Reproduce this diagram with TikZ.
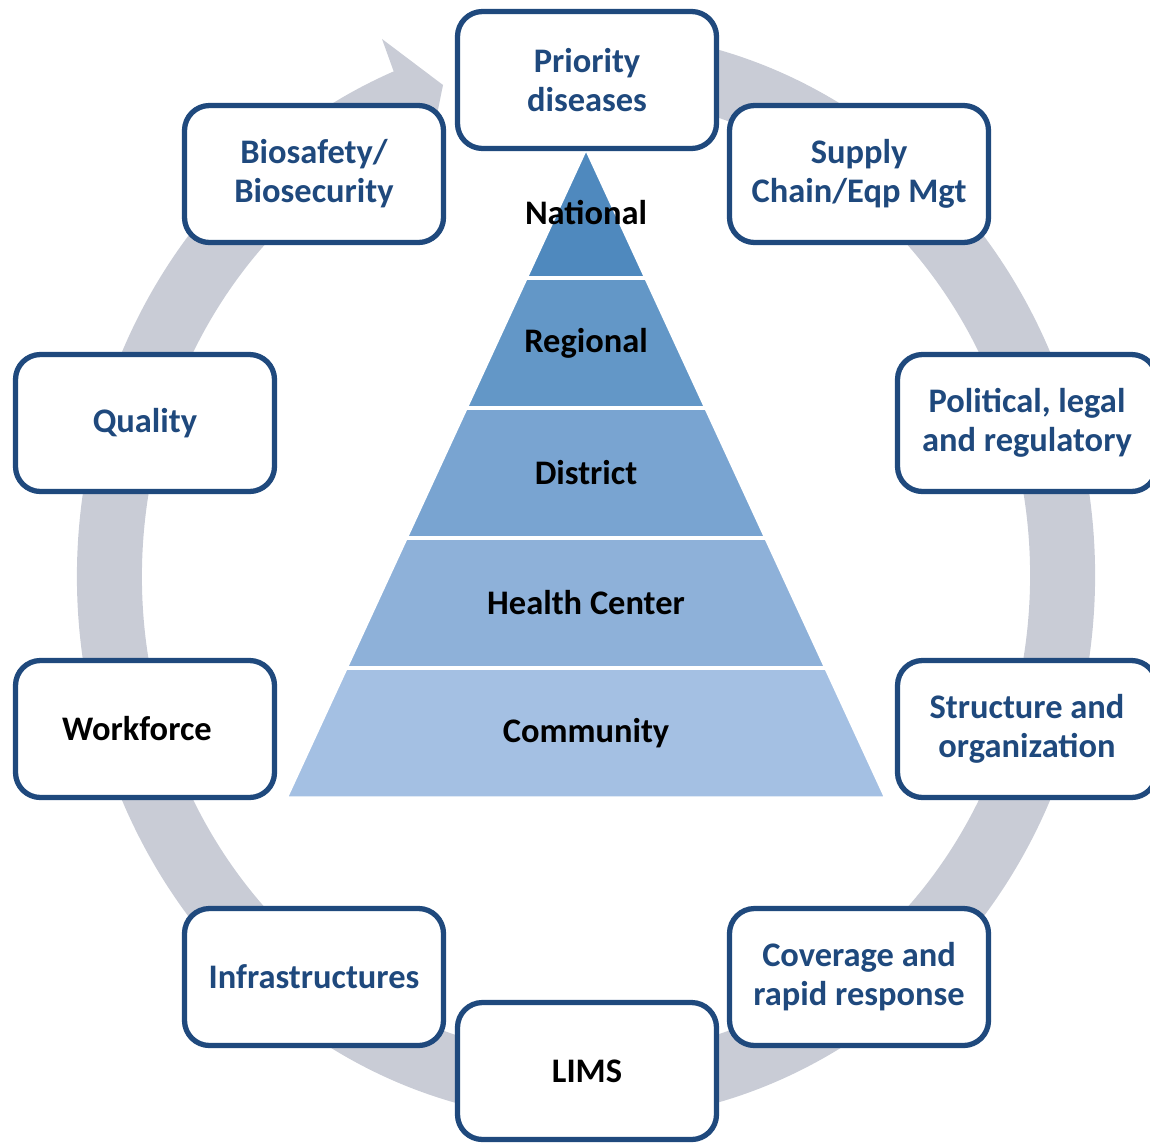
\documentclass[tikz,border=0pt]{standalone}
\usepackage{fontspec}
\setmainfont{Carlito}
\usepackage{tikz}
\usetikzlibrary{calc}
\definecolor{boxblue}{RGB}{31,73,125}
\definecolor{ringgrey}{RGB}{201,204,214}
\definecolor{lvlA}{RGB}{79,137,190}
\definecolor{lvlB}{RGB}{99,151,199}
\definecolor{lvlC}{RGB}{121,164,209}
\definecolor{lvlD}{RGB}{142,177,217}
\definecolor{lvlE}{RGB}{164,192,227}

\begin{document}
\begin{tikzpicture}[
            box/.style={draw=boxblue, line width=1.5pt, rounded corners=0.25cm, fill=white,
                minimum width=2.59cm, minimum height=1.37cm, align=center,
                text=boxblue, font=\fontsize{9.8}{11.1}\selectfont\bfseries},
            level/.style={font=\fontsize{9.8}{11.1}\selectfont\bfseries, text=black},
            ring/.style={draw=ringgrey, line width=0.65cm}
        ]
            \useasboundingbox (0,0) rectangle (11.5,11.42);

            \coordinate (ctr) at (5.86,5.66);
            \coordinate (tipout) at (3.82,11.03);
            \coordinate (tip) at (4.43,10.57);
            \coordinate (tipin) at (4.27,9.78);
            \draw[ring] (ctr) ++(80:4.765 and 5.125)
                arc[start angle=80, end angle=-249, x radius=4.765, y radius=5.125];
            \fill[ringgrey] (tipout) -- (tip) -- (tipin) -- cycle;

            \coordinate (apex) at (5.86,9.94);
            \coordinate (bl) at (2.86,3.44);
            \coordinate (br) at (8.86,3.44);
            \coordinate (bot) at (5.86,3.44);
            \foreach \c/\t [count=\i from 0] in {lvlA/National, lvlB/Regional, lvlC/District, lvlD/Health Center, lvlE/Community} {
                \pgfmathsetmacro\a{\i/5}
                \pgfmathsetmacro\b{(\i+1)/5}
                \pgfmathsetmacro\m{(\i+0.5)/5}
                \fill[\c, draw=white, line width=1pt] ($(apex)!\a!(bl)$) -- ($(apex)!\b!(bl)$)
                    -- ($(apex)!\b!(br)$) -- ($(apex)!\a!(br)$) -- cycle;
                \node[level] (lvl\i) at ($(apex)!\m!(bot)$) {\t};
            }

            \node[box] (priority) at (5.87,10.62) {Priority\\diseases};
            \node[box] (biosafety) at (3.14,9.68) {Biosafety/\\Biosecurity};
            \node[box] (supply) at (8.59,9.68) {Supply\\Chain/Eqp Mgt};
            \node[box] (quality) at (1.45,7.19) {Quality};
            \node[box] (political) at (10.27,7.19) {Political, legal\\and regulatory};
            \node[box, text=black] (workforce) at (1.45,4.13) {Workforce\hspace{0.16cm}};
            \node[box] (structure) at (10.27,4.13) {Structure and\\organization};
            \node[box] (infra) at (3.14,1.65) {Infrastructures};
            \node[box] (coverage) at (8.59,1.65) {Coverage and\\rapid response};
            \node[box, text=black] (lims) at (5.87,0.71) {LIMS};
        \end{tikzpicture}
\end{document}
